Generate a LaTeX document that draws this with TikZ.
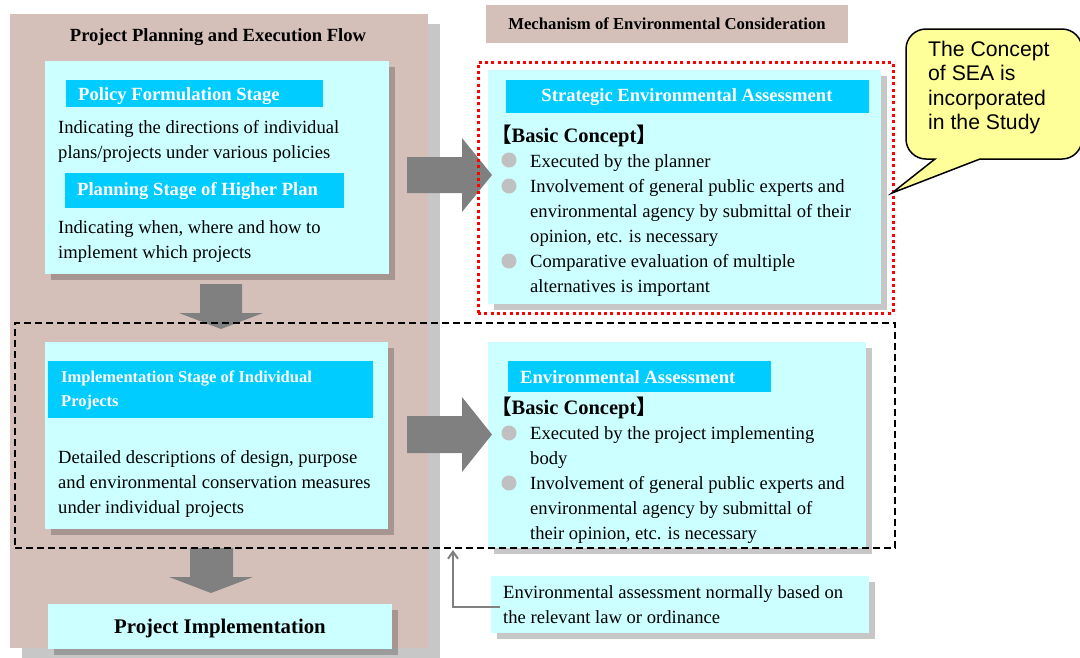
\documentclass[tikz,border=0pt]{standalone}
\usepackage{fontspec}
\setmainfont{Liberation Serif}
\newfontfamily\cjkfont{Noto Sans CJK JP}
\newfontfamily\calloutfont{Liberation Sans}
\usetikzlibrary{shadows,arrows.meta}
\definecolor{panelbrown}{HTML}{D5C0B9}
\definecolor{paleblue}{HTML}{CCFFFF}
\definecolor{barblue}{HTML}{00CCFF}
\definecolor{arrowgray}{HTML}{808080}
\definecolor{dotgray}{HTML}{C0C0C0}
\definecolor{calloutyellow}{HTML}{FFFF99}
\newcommand{\basicconcept}{{\cjkfont\bfseries 【}Basic Concept{\cjkfont\bfseries 】}}
\begin{document}
% Multi-line text nodes below are placed by the baseline of their last line.
\begin{tikzpicture}[x=1pt,y=-1pt,
  box/.style={anchor=north west, inner sep=0pt, outer sep=0pt, draw=none},
  panel/.style={box, fill=panelbrown},
  stagebox/.style={box, fill=paleblue,
    drop shadow={shadow xshift=6pt, shadow yshift=-6pt, fill=black, opacity=0.22}},
  bar/.style={box, fill=barblue},
  bodytext/.style={inner sep=0pt, anchor=base west, align=left,
    font=\fontsize{18.6}{25}\selectfont},
  bartext/.style={inner sep=0pt, anchor=base west, align=left, text=white,
    font=\bfseries\fontsize{18.6}{25}\selectfont},
  headtext/.style={inner sep=0pt, anchor=base west,
    font=\bfseries\fontsize{20.5}{25}\selectfont},
  bullet/.style={circle, fill=dotgray, inner sep=0pt, minimum size=15pt},
  blockarrow/.style={fill=arrowgray},
  stageframe/.style={draw=black, line width=1.5pt, dash pattern=on 7pt off 4pt},
  seaframe/.style={draw=red, line width=3pt, dash pattern=on 3pt off 3.3pt},
  callout/.style={draw=black, line width=1.5pt, fill=calloutyellow},
  pointer/.style={draw=arrowgray, line width=2pt, -{Straight Barb[length=7pt,width=10pt]}}
]
\useasboundingbox (0,0) rectangle (1080,657);

% ---------- left column: planning and execution flow ----------
\node[panel, minimum width=418pt, minimum height=634pt,
  drop shadow={shadow xshift=12pt, shadow yshift=-10pt, fill=black, opacity=0.22}]
  (flow) at (10,14) {};
\node[inner sep=0pt, anchor=base, font=\bfseries\fontsize{18.6}{22}\selectfont]
  (flowtitle) at (218,41) {Project Planning and Execution Flow};

% upper planning stages
\node[stagebox, minimum width=344pt, minimum height=213pt] (upper) at (45,61) {};
\node[bar, minimum width=257pt, minimum height=27pt] (policybar) at (66,80) {};
\node[bartext] (policylabel) at (78,100) {Policy Formulation Stage};
\node[bodytext] (policytext) at (58,158)
  {Indicating the directions of individual\\plans/projects under various policies};
\node[bar, minimum width=279pt, minimum height=35pt] (higherbar) at (65,173) {};
\node[bartext] (higherlabel) at (77,195) {Planning Stage of Higher Plan};
\node[bodytext] (highertext) at (58,258)
  {Indicating when, where and how to\\implement which projects};

% implementation stage
\node[stagebox, minimum width=343pt, minimum height=187pt] (impl) at (45,342) {};
\node[bar, minimum width=325pt, minimum height=57pt] (implbar) at (48,361) {};
\node[bartext, font=\bfseries\fontsize{16.5}{24}\selectfont] (impllabel) at (61,406)
  {Implementation Stage of Individual\\Projects};
\node[bodytext] (impltext) at (58,513)
  {Detailed descriptions of design, purpose\\and environmental conservation measures\\under individual projects};

% final step
\node[stagebox, minimum width=344pt, minimum height=45pt] (execution) at (48,604) {};
\node[inner sep=0pt, anchor=base, font=\bfseries\fontsize{20.8}{25}\selectfont]
  (executionlabel) at (220,633) {Project Implementation};

% ---------- right column: environmental consideration ----------
\node[panel, minimum width=362pt, minimum height=38pt,
  font=\bfseries\fontsize{16.7}{20}\selectfont] (mech) at (486,5)
  {Mechanism of Environmental Consideration};

% strategic environmental assessment
\node[stagebox, minimum width=393pt, minimum height=234pt] (sea) at (488,70) {};
\node[bar, minimum width=363pt, minimum height=33pt] (seabar) at (506,80) {};
\node[bartext, anchor=base] (sealabel) at (687,101) {Strategic Environmental Assessment};
\node[headtext] (seahead) at (491,142) {\basicconcept};
\node[bullet] (seadot1) at (509,160) {};
\node[bodytext] (seaitem1) at (530,167) {Executed by the planner};
\node[bullet] (seadot2) at (509,186) {};
\node[bodytext] (seaitem2) at (530,242)
  {Involvement of general public experts and\\environmental agency by submittal of their\\opinion, etc. is necessary};
\node[bullet] (seadot3) at (509,261) {};
\node[bodytext] (seaitem3) at (530,292)
  {Comparative evaluation of multiple\\alternatives is important};

% environmental assessment
\node[stagebox, minimum width=378pt, minimum height=206pt] (ea) at (488,342) {};
\node[bar, minimum width=263pt, minimum height=31pt] (eabar) at (508,361) {};
\node[bartext] (ealabel) at (520,383) {Environmental Assessment};
\node[headtext] (eahead) at (491,414) {\basicconcept};
\node[bullet] (eadot1) at (509,433) {};
\node[bodytext] (eaitem1) at (530,464)
  {Executed by the project implementing\\body};
\node[bullet] (eadot2) at (509,483) {};
\node[bodytext] (eaitem2) at (530,539)
  {Involvement of general public experts and\\environmental agency by submittal of\\their opinion, etc. is necessary};

% legal basis note
\node[stagebox, minimum width=378pt, minimum height=57pt] (note) at (491,576) {};
\node[bodytext] (notetext) at (503,623)
  {Environmental assessment normally based on\\the relevant law or ordinance};

% ---------- block arrows ----------
\fill[blockarrow] (200,284) -- (242,284) -- (242,313) -- (263,313) -- (221,329)
  -- (179,313) -- (200,313) -- cycle;
\fill[blockarrow] (190,548) -- (233,548) -- (233,577) -- (253,577) -- (211,593)
  -- (169,577) -- (190,577) -- cycle;
\fill[blockarrow] (407,157) -- (462,157) -- (462,138) -- (492,175) -- (462,212)
  -- (462,193) -- (407,193) -- cycle;
\fill[blockarrow] (407,416) -- (462,416) -- (462,397) -- (492,434.5) -- (462,472)
  -- (462,453) -- (407,453) -- cycle;

% ---------- frames ----------
\node[box, stageframe, minimum width=880pt, minimum height=225pt] (stageframe) at (15,323) {};
\node[box, seaframe, minimum width=415pt, minimum height=251pt] (seaframe) at (478,62) {};

% note pointing to the project-level frame
\coordinate (noteport) at (500,607);
\coordinate (frameport) at (453,550);
\draw[pointer] (noteport) -| (frameport);

% ---------- callout ----------
\coordinate (callouttip) at (892,193);
\draw[callout] (935,159) [rounded corners=20pt] -- (906,159) -- (906,29) -- (1082,29)
  -- (1082,159) [sharp corners] -- (980,159) -- (callouttip) -- cycle;
\node[inner sep=0pt, anchor=base west, align=left,
  font=\calloutfont\fontsize{21.2}{24.5}\selectfont] (callouttext) at (928,129.5)
  {The Concept\\of SEA is\\incorporated\\in the Study};
\end{tikzpicture}
\end{document}
